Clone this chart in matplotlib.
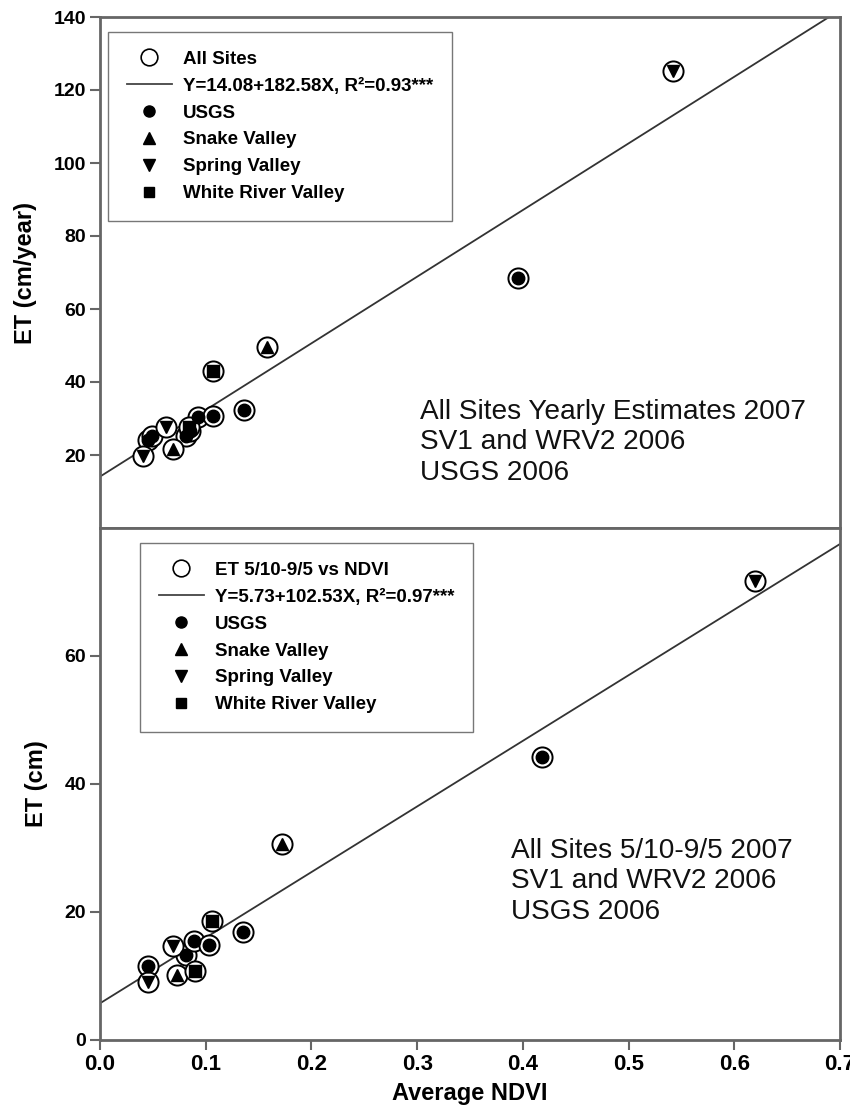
import numpy as np
import matplotlib.pyplot as plt
from matplotlib.lines import Line2D

plt.rcParams['font.family'] = ['Liberation Sans', 'DejaVu Sans']

# top panel: yearly ET vs NDVI
top_usgs_x = [0.045, 0.049, 0.081, 0.085, 0.093, 0.107, 0.136, 0.395]
top_usgs_y = [24.2, 25.3, 25.3, 26.6, 30.3, 30.8, 32.4, 68.4]
top_snake_x = [0.069, 0.158]
top_snake_y = [21.7, 49.7]
top_spring_x = [0.041, 0.062, 0.542]
top_spring_y = [19.8, 27.6, 125.1]
top_wrv_x = [0.084, 0.107]
top_wrv_y = [27.8, 42.9]
top_fit = (14.08, 182.58)
top_fit_label = "Y=14.08+182.58X, R²=0.93***"
top_all_label = "All Sites"
top_note = "All Sites Yearly Estimates 2007\nSV1 and WRV2 2006\nUSGS 2006"

# bottom panel: ET 5/10-9/5 vs NDVI
bot_usgs_x = [0.045, 0.081, 0.089, 0.103, 0.135, 0.418]
bot_usgs_y = [11.6, 13.3, 15.4, 14.8, 16.8, 44.2]
bot_snake_x = [0.073, 0.172]
bot_snake_y = [10.2, 30.7]
bot_spring_x = [0.045, 0.069, 0.620]
bot_spring_y = [9.1, 14.7, 71.7]
bot_wrv_x = [0.090, 0.106]
bot_wrv_y = [10.8, 18.6]
bot_fit = (5.73, 102.53)
bot_fit_label = "Y=5.73+102.53X, R²=0.97***"
bot_all_label = "ET 5/10-9/5 vs NDVI"
bot_note = "All Sites 5/10-9/5 2007\nSV1 and WRV2 2006\nUSGS 2006"

group_names = ["USGS", "Snake Valley", "Spring Valley", "White River Valley"]
group_markers = ["o", "^", "v", "s"]
group_sizes = [9, 9, 9, 8]

W, H = 850, 1106
fig = plt.figure(figsize=(W / 100, H / 100), dpi=100)
ax1 = fig.add_axes([100 / W, 1 - 528 / H, 740 / W, 511 / H])
ax2 = fig.add_axes([100 / W, 1 - 1040 / H, 740 / W, 512 / H])

spine_c = '#666666'


def draw_panel(ax, groups, fit, all_label, fit_label, note, note_xy, leg_xy):
    allx = np.concatenate([g[0] for g in groups])
    ally = np.concatenate([g[1] for g in groups])
    xf = np.array([0.0, 0.7])
    ax.plot(xf, fit[0] + fit[1] * xf, color='#333333', lw=1.3, zorder=2)
    ax.plot(allx, ally, 'o', ms=14.5, mfc='white', mec='black', mew=1.4, zorder=3)
    for (gx, gy), m, s in zip(groups, group_markers, group_sizes):
        ax.plot(gx, gy, m, ms=s, color='black', zorder=4)

    handles = [Line2D([], [], marker='o', ls='none', ms=12, mfc='white', mec='black', mew=1.2),
               Line2D([], [], color='#444444', lw=1.3)]
    for m, s in zip(group_markers, group_sizes):
        handles.append(Line2D([], [], marker=m, ls='none', ms=s - 1, color='black'))
    labels = [all_label, fit_label] + group_names
    leg = ax.legend(handles, labels, loc='upper left',
                    bbox_to_anchor=(leg_xy[0] / W, 1 - leg_xy[1] / H),
                    bbox_transform=fig.transFigure, borderaxespad=0,
                    prop={'weight': 'bold', 'size': 13.5}, frameon=True, fancybox=False,
                    handlelength=2.4, handletextpad=0.6, labelspacing=0.52, borderpad=1.0)
    leg.get_frame().set_edgecolor('#555555')
    leg.get_frame().set_linewidth(1.0)

    fig.text(note_xy[0] / W, 1 - note_xy[1] / H, note, fontsize=20.2, va='top', ha='left',
             linespacing=1.22, color='#111111')

    ax.set_xlim(0, 0.7)
    for s in ax.spines.values():
        s.set_color(spine_c)
        s.set_linewidth(2)
    ax.tick_params(axis='y', direction='out', length=7, width=1.5, color=spine_c,
                   labelsize=14, pad=3)


draw_panel(ax1,
           [(top_usgs_x, top_usgs_y), (top_snake_x, top_snake_y),
            (top_spring_x, top_spring_y), (top_wrv_x, top_wrv_y)],
           top_fit, top_all_label, top_fit_label, top_note, (420, 399), (108, 32))
draw_panel(ax2,
           [(bot_usgs_x, bot_usgs_y), (bot_snake_x, bot_snake_y),
            (bot_spring_x, bot_spring_y), (bot_wrv_x, bot_wrv_y)],
           bot_fit, bot_all_label, bot_fit_label, bot_note, (511, 838), (140, 543))

ax1.set_ylim(0, 140)
ax1.set_yticks([20, 40, 60, 80, 100, 120, 140])
ax1.set_yticklabels(['20', '40', '60', '80', '100', '120', '140'], fontweight='bold')
ax1.tick_params(axis='x', bottom=False, labelbottom=False)
ax1.set_ylabel("ET (cm/year)", fontsize=17, fontweight='bold', labelpad=12)

ax2.set_ylim(0, 80)
ax2.set_yticks([0, 20, 40, 60])
ax2.set_yticklabels(['0', '20', '40', '60'], fontweight='bold')
xt = [0.0, 0.1, 0.2, 0.3, 0.4, 0.5, 0.6, 0.7]
ax2.set_xticks(xt)
ax2.set_xticklabels([f"{v:.1f}" for v in xt], fontweight='bold',
                    family=['Liberation Sans Narrow', 'Liberation Sans'])
ax2.tick_params(axis='x', direction='out', length=7, width=1.5, color=spine_c,
                labelsize=16, pad=3)
ax2.set_xlabel("Average NDVI", fontsize=17, fontweight='bold', labelpad=5)
ax2.set_ylabel("ET (cm)", fontsize=17, fontweight='bold', labelpad=12)

fig.savefig("out.png", dpi=100)
